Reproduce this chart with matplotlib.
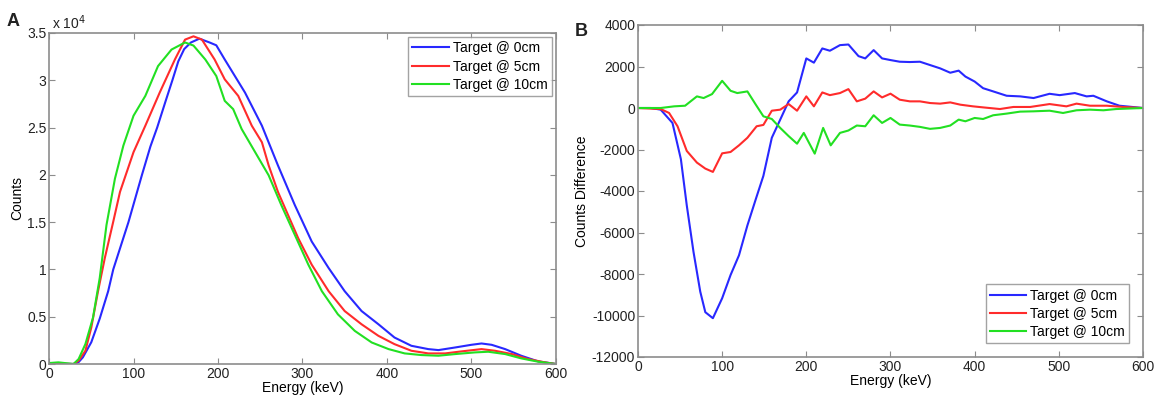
import matplotlib.pyplot as plt
import numpy as np

plt.rcParams['font.family'] = ['Liberation Sans', 'DejaVu Sans']
plt.rcParams['axes.unicode_minus'] = False

labels = ['Target @ 0cm', 'Target @ 5cm', 'Target @ 10cm']
colors = ['#2828ff', '#ff2b2b', '#22e022']

# Panel A: energy spectra (counts)
a_energy_0cm = [0, 29, 35, 40, 50, 60, 70, 76, 85, 94, 102, 110, 120, 128, 138, 146, 153, 160,
                168, 178, 190, 198, 208, 220, 232, 252, 271, 291, 311, 331, 350, 370, 390, 409,
                429, 449, 461, 481, 500, 512, 524, 540, 559, 579, 600]
a_counts_0cm = [50, 0, 200, 700, 2300, 4800, 7700, 10000, 12500, 15000, 17500, 20000, 23000,
                25000, 27800, 30000, 32000, 33300, 34000, 34400, 34000, 33700, 32200, 30450,
                28700, 25200, 21000, 16800, 12950, 10150, 7700, 5600, 4200, 2800, 1925, 1575,
                1470, 1750, 2030, 2170, 2030, 1575, 875, 280, 0]

a_energy_5cm = [0, 29, 35, 43, 50, 58, 66, 76, 84, 100, 114, 131, 149, 161, 171, 181, 196, 208,
                224, 240, 252, 260, 271, 283, 295, 311, 331, 350, 370, 390, 409, 429, 449, 469,
                488, 512, 528, 548, 567, 587, 600]
a_counts_5cm = [50, 0, 350, 1400, 3850, 7700, 11200, 15050, 18200, 22400, 25200, 28700, 32200,
                34300, 34650, 34300, 32200, 30100, 28350, 25200, 23450, 21000, 18200, 15750,
                13300, 10500, 7700, 5600, 4200, 2975, 2100, 1400, 1120, 1120, 1330, 1575, 1400,
                1050, 525, 175, 0]

a_energy_10cm = [0, 11, 29, 35, 43, 52, 60, 68, 78, 88, 100, 114, 129, 145, 161, 171, 185, 198,
                 208, 218, 228, 244, 260, 275, 291, 307, 323, 342, 362, 382, 402, 421, 441, 461,
                 481, 504, 520, 540, 559, 579, 600]
a_counts_10cm = [100, 175, 0, 525, 2100, 4900, 9100, 14700, 19600, 23100, 26250, 28350, 31500,
                 33250, 34000, 33670, 32200, 30450, 27825, 26950, 24850, 22400, 19950, 16800,
                 13650, 10500, 7700, 5250, 3500, 2275, 1575, 1120, 945, 875, 1050, 1225, 1295,
                 1050, 595, 245, 0]

# Panel B: counts difference
b_energy_0cm = [0, 15, 27, 41, 51, 58, 66, 74, 80, 89, 100, 110, 120, 130, 140, 149, 159, 169,
                179, 189, 200, 209, 219, 228, 240, 250, 262, 270, 280, 290, 300, 311, 323, 335,
                347, 359, 371, 381, 389, 400, 410, 422, 438, 454, 470, 489, 501, 519, 533, 541,
                557, 572, 600]
b_diff_0cm = [0, 0, -80, -720, -2470, -4700, -6940, -8850, -9840, -10130, -9170, -8050, -7100,
              -5660, -4390, -3270, -1435, -560, 320, 750, 2390, 2185, 2870, 2760, 3030, 3060, 2500,
              2390, 2790, 2390, 2310, 2230, 2215, 2230, 2070, 1910, 1700, 1800, 1515, 1275, 955,
              800, 590, 560, 480, 685, 620, 720, 560, 590, 320, 110, 0]

b_energy_5cm = [0, 27, 37, 47, 58, 70, 80, 89, 100, 110, 120, 130, 141, 149, 159, 169, 179, 189,
                200, 209, 219, 228, 240, 250, 260, 270, 280, 290, 300, 311, 323, 335, 347, 359,
                371, 383, 398, 410, 430, 446, 466, 489, 509, 521, 537, 557, 576, 600]
b_diff_5cm = [0, -50, -240, -880, -2070, -2630, -2920, -3080, -2185, -2120, -1800, -1435, -880,
              -815, -130, -80, 190, -130, 560, 80, 750, 620, 720, 910, 320, 450, 800, 510, 690, 400,
              320, 320, 240, 210, 270, 160, 80, 30, -50, 50, 50, 190, 80, 210, 110, 110, 50, 0]

b_energy_10cm = [0, 27, 43, 56, 70, 78, 88, 100, 110, 118, 130, 140, 149, 159, 169, 179, 189, 197,
                 210, 220, 229, 240, 250, 260, 270, 280, 290, 300, 311, 323, 335, 347, 359, 371,
                 381, 389, 400, 410, 422, 438, 454, 470, 489, 505, 521, 537, 553, 568, 600]
b_diff_10cm = [0, 0, 80, 110, 560, 480, 670, 1310, 830, 720, 800, 160, -400, -530, -960, -1355,
               -1720, -1200, -2200, -960, -1800, -1200, -1085, -845, -880, -350, -720, -480, -800,
               -845, -910, -1005, -960, -845, -560, -640, -480, -530, -350, -270, -175, -160, -130,
               -240, -110, -80, -110, -50, 0]

a_yticks = [0, 5000, 10000, 15000, 20000, 25000, 30000, 35000]
a_yticklabels = ['0', '0.5', '1', '1.5', '2', '2.5', '3', '3.5']
b_yticks = list(range(-12000, 4001, 2000))
x_ticks = [0, 100, 200, 300, 400, 500, 600]

fig = plt.figure(figsize=(11.57, 4.0), dpi=100)
ax1 = fig.add_axes([0.0424, 0.09, 0.438, 0.8275])
ax2 = fig.add_axes([0.5514, 0.1075, 0.4365, 0.83])

spine_gray = '#8c8c8c'


def style_axes(ax):
    for s in ax.spines.values():
        s.set_color(spine_gray)
        s.set_linewidth(1.2)
    ax.tick_params(direction='in', length=4, width=0.8, color=spine_gray,
                   top=True, right=True, labelsize=10, pad=2, labelcolor='#222222')


a_series = [(a_energy_0cm, a_counts_0cm), (a_energy_5cm, a_counts_5cm),
            (a_energy_10cm, a_counts_10cm)]
for (e, c), col, lab in zip(a_series, colors, labels):
    ax1.plot(e, c, color=col, lw=1.5, label=lab)
ax1.set_xlim(0, 600)
ax1.set_ylim(0, 35000)
ax1.set_xticks(x_ticks)
ax1.set_yticks(a_yticks)
ax1.set_yticklabels(a_yticklabels)
ax1.set_xlabel('Energy (keV)', fontsize=10, labelpad=0)
ax1.set_ylabel('Counts', fontsize=10, labelpad=2)
style_axes(ax1)
ax1.text(0.005, 1.012, r'x 10$^4$', transform=ax1.transAxes, fontsize=10, color='#222222')
fig.text(0.006, 0.935, 'A', fontsize=13, fontweight='bold', color='#222222')
leg1 = ax1.legend(loc='upper right', fontsize=10, frameon=True, fancybox=False,
                  edgecolor=spine_gray, handlelength=2.6, handletextpad=0.3,
                  labelspacing=0.3, borderpad=0.3, borderaxespad=0.3)
leg1.get_frame().set_linewidth(1.0)

b_series = [(b_energy_0cm, b_diff_0cm), (b_energy_5cm, b_diff_5cm),
            (b_energy_10cm, b_diff_10cm)]
for (e, d), col, lab in zip(b_series, colors, labels):
    ax2.plot(e, d, color=col, lw=1.5, label=lab)
ax2.set_xlim(0, 600)
ax2.set_ylim(-12000, 4000)
ax2.set_xticks(x_ticks)
ax2.set_yticks(b_yticks)
ax2.set_xlabel('Energy (keV)', fontsize=10, labelpad=0)
ax2.set_ylabel('Counts Difference', fontsize=10, labelpad=2)
style_axes(ax2)
fig.text(0.497, 0.91, 'B', fontsize=13, fontweight='bold', color='#222222')
leg2 = ax2.legend(loc='lower right', fontsize=10, frameon=True, fancybox=False,
                  edgecolor=spine_gray, handlelength=2.6, handletextpad=0.3,
                  labelspacing=0.3, borderpad=0.3, borderaxespad=1.0)
leg2.get_frame().set_linewidth(1.0)

fig.savefig('out.png', dpi=100)
